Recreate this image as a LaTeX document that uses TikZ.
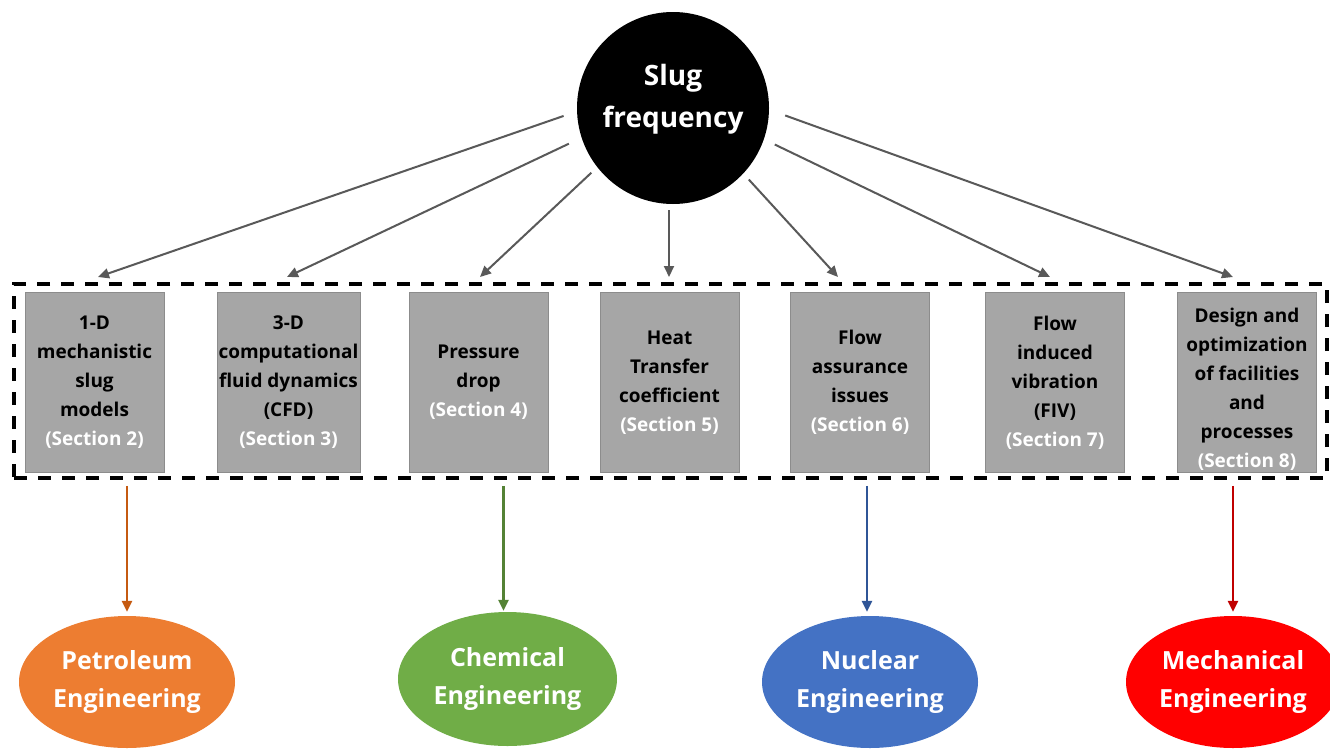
\documentclass[tikz,border=0pt]{standalone}
\usepackage{fontspec}
\setmainfont{Open Sans}
\usetikzlibrary{arrows.meta,shapes.geometric,calc}
\definecolor{boxgray}{HTML}{A6A6A6}
\definecolor{boxborder}{HTML}{8C8C8C}
\definecolor{arrgray}{HTML}{595959}
\definecolor{petfill}{HTML}{ED7D31}
\definecolor{petarr}{HTML}{C55A11}
\definecolor{chefill}{HTML}{70AD47}
\definecolor{chearr}{HTML}{548235}
\definecolor{nucfill}{HTML}{4472C4}
\definecolor{nucarr}{HTML}{2F5597}
\definecolor{mecfill}{HTML}{FF0000}
\definecolor{mecarr}{HTML}{C00000}
\begin{document}
\begin{tikzpicture}[x=1pt,y=-1pt,
  topic/.style={draw=boxborder, fill=boxgray, line width=1pt, minimum width=139pt, minimum height=180pt, inner sep=0pt, align=center, font=\bfseries\fontsize{19}{29}\selectfont},
  field/.style={ellipse, minimum width=216pt, minimum height=132pt, inner sep=0pt, align=center, text=white, font=\bfseries\fontsize{25}{38}\selectfont},
  garr/.style={draw=arrgray, line width=2pt, -{Triangle[length=11pt,width=10pt]}},
  farr/.style={line width=2.6pt, -{Triangle[length=11pt,width=10pt]}}
  ]
\useasboundingbox (0,0) rectangle (1330,750);
\clip (0,0) rectangle (1330,750);
\fill[white] (0,0) rectangle (1330,750);

% central circle
\node[circle, fill=black, minimum size=192pt, inner sep=0pt] (sf) at (673,108) {};
\node[text=white, align=center, font=\bfseries\fontsize{28}{42}\selectfont] (sft) at (673,99) {Slug\\frequency};

% dashed group
\node[draw=black, dashed, dash pattern=on 13pt off 11pt, line width=3.5pt, minimum width=1313pt, minimum height=194pt, inner sep=0pt] (grp) at (670.5,381) {};

% topic boxes
\node[topic] (b1) at (94.5,382.5) {1-D\\mechanistic\\slug\\models\\{\color{white}(Section 2)}};
\node[topic, minimum width=143pt] (b2) at (288.5,382.5) {3-D\\computational\\fluid dynamics\\(CFD)\\{\color{white}(Section 3)}};
\node[topic] (b3) at (478.5,382) {Pressure\\drop\\{\color{white}(Section 4)}};
\node[topic] (b4) at (669.5,382.5) {Heat\\Transfer\\coefficient\\{\color{white}(Section 5)}};
\node[topic] (b5) at (860,382.5) {Flow\\assurance\\issues\\{\color{white}(Section 6)}};
\node[topic] (b6) at (1055,382.5) {Flow\\induced\\vibration\\(FIV)\\{\color{white}(Section 7)}};
\node[topic] (b7) at (1247,382.5) {\rule{0pt}{28pt}Design and\\optimization\\of facilities\\and\\processes\\{\color{white}(Section 8)}};

% arrow end points on the group top
\coordinate (t1) at (98,277);
\coordinate (t2) at (287,277);
\coordinate (t3) at (480,277);
\coordinate (t4) at (669,277);
\coordinate (t5) at (838,277);
\coordinate (t6) at (1050,277);
\coordinate (t7) at (1233,277);

\draw[garr, shorten <=14pt] (sf.182.6) -- (t1);
\draw[garr, shorten <=14pt] (sf.198.4) -- (t2);
\draw[garr, shorten <=8pt] (sf.218.7) -- (t3);
\draw[garr, shorten <=6pt] (t4 |- sf.south) -- (t4);
\draw[garr, shorten <=8pt] (sf.317.7) -- (t5);
\draw[garr, shorten <=12pt] (sf.341) -- (t6);
\draw[garr, shorten <=17pt] (sf.359) -- (t7);

% fields
\node[field, fill=petfill] (pet) at (127,682) {Petroleum\\Engineering};
\node[field, fill=chefill, minimum width=219pt, minimum height=134pt] (che) at (507.5,679) {Chemical\\Engineering};
\node[field, fill=nucfill] (nuc) at (870,682) {Nuclear\\Engineering};
\node[field, fill=mecfill, minimum width=214pt] (mec) at (1233,682) {Mechanical\\Engineering};

\draw[farr, draw=petarr, shorten <=6pt, shorten >=4pt] (pet.north |- grp.south) -- (pet.north);
\draw[farr, draw=chearr, shorten <=6pt, shorten >=1pt] ([xshift=-4pt]che.north |- grp.south) -- ([xshift=-4pt]che.north);
\draw[farr, draw=nucarr, shorten <=6pt, shorten >=4pt] ([xshift=-3pt]nuc.north |- grp.south) -- ([xshift=-3pt]nuc.north);
\draw[farr, draw=mecarr, shorten <=6pt, shorten >=4pt] (mec.north |- grp.south) -- (mec.north);
\end{tikzpicture}
\end{document}
